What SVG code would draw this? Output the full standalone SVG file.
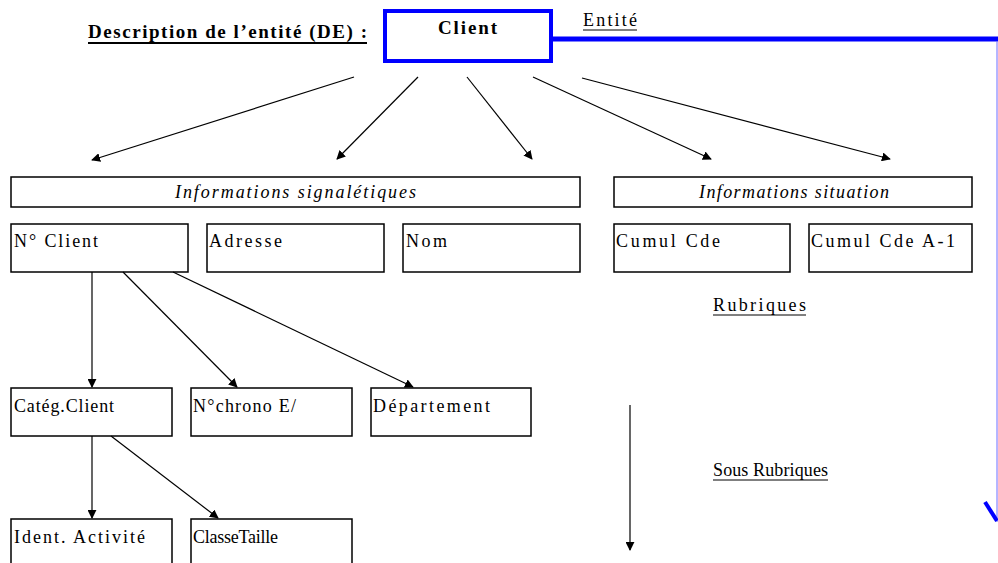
<svg xmlns="http://www.w3.org/2000/svg" width="998" height="563" viewBox="0 0 998 563">
  <style>
    .box { fill: #ffffff; stroke: #000000; stroke-width: 1.5; }
    text { font-family: "Liberation Serif", "DejaVu Serif", serif; font-size: 18px; fill: #000000; }
    .ital { font-style: italic; }
    .bold { font-weight: bold; font-size: 19px; }
    .conn { stroke: #000000; stroke-width: 1.2; fill: none; marker-end: url(#arrow); }
  </style>
  <defs>
    <marker id="arrow" viewBox="0 0 10 10" refX="9" refY="5" markerWidth="9" markerHeight="9" markerUnits="userSpaceOnUse" orient="auto">
      <path d="M0,0 L10,5 L0,10 z" fill="#000000"/>
    </marker>
  </defs>
  <rect width="998" height="563" fill="#ffffff"/>

  <!-- title -->
  <g id="title">
    <text class="bold" x="88" y="38" textLength="279" lengthAdjust="spacing">Description de l’entité (DE) :</text>
    <line x1="88" y1="43" x2="367" y2="43" stroke="#000" stroke-width="2"/>
  </g>

  <!-- entity box -->
  <g id="client">
    <rect x="385" y="11" width="166" height="50" fill="#ffffff" stroke="#0000ff" stroke-width="4"/>
    <text class="bold" x="438" y="34" textLength="59" lengthAdjust="spacing">Client</text>
  </g>
  <g id="entite-label">
    <text x="583" y="26" font-size="16" textLength="54" lengthAdjust="spacing">Entité</text>
    <line x1="583" y1="30" x2="637" y2="30" stroke="#000" stroke-width="1"/>
  </g>

  <!-- blue pointer to the entity -->
  <g id="entity-pointer">
    <line x1="551" y1="39" x2="998" y2="39" stroke="#0000ff" stroke-width="5"/>
    <line x1="997" y1="41" x2="997" y2="522" stroke="#6c6cff" stroke-width="1"/>
    <line x1="985" y1="502" x2="997" y2="521" stroke="#0000ff" stroke-width="4"/>
  </g>

  <!-- group headers -->
  <g id="info-signaletiques">
    <rect class="box" x="11" y="177" width="569" height="30"/>
    <text class="ital" x="175" y="198" textLength="241" lengthAdjust="spacing">Informations signalétiques</text>
  </g>
  <g id="info-situation">
    <rect class="box" x="614" y="177" width="358" height="30"/>
    <text class="ital" x="699" y="198" textLength="190" lengthAdjust="spacing">Informations situation</text>
  </g>

  <!-- rubriques -->
  <g id="no-client">
    <rect class="box" x="11" y="224" width="177" height="48"/>
    <text x="14" y="247" textLength="84" lengthAdjust="spacing">N° Client</text>
  </g>
  <g id="adresse">
    <rect class="box" x="207" y="224" width="177" height="48"/>
    <text x="209" y="247" textLength="73" lengthAdjust="spacing">Adresse</text>
  </g>
  <g id="nom">
    <rect class="box" x="403" y="224" width="177" height="48"/>
    <text x="406" y="247" textLength="41" lengthAdjust="spacing">Nom</text>
  </g>
  <g id="cumul-cde">
    <rect class="box" x="614" y="224" width="176" height="48"/>
    <text x="616" y="247" textLength="104" lengthAdjust="spacing">Cumul Cde</text>
  </g>
  <g id="cumul-cde-a1">
    <rect class="box" x="809" y="224" width="163" height="48"/>
    <text x="811" y="247" textLength="144" lengthAdjust="spacing">Cumul Cde A-1</text>
  </g>

  <g id="rubriques-label">
    <text x="713" y="311" textLength="93" lengthAdjust="spacing">Rubriques</text>
    <line x1="713" y1="315" x2="806" y2="315" stroke="#000" stroke-width="1"/>
  </g>

  <!-- sous-rubriques -->
  <g id="categ-client">
    <rect class="box" x="11" y="388" width="161" height="48"/>
    <text x="14" y="412" textLength="100" lengthAdjust="spacing">Catég.Client</text>
  </g>
  <g id="no-chrono">
    <rect class="box" x="191" y="388" width="161" height="48"/>
    <text x="193" y="412" textLength="103" lengthAdjust="spacing">N°chrono E/</text>
  </g>
  <g id="departement">
    <rect class="box" x="371" y="388" width="160" height="48"/>
    <text x="373" y="412" textLength="117" lengthAdjust="spacing">Département</text>
  </g>
  <g id="ident-activite">
    <rect class="box" x="11" y="519" width="161" height="50"/>
    <text x="14" y="543" textLength="131" lengthAdjust="spacing">Ident. Activité</text>
  </g>
  <g id="classe-taille">
    <rect class="box" x="191" y="519" width="161" height="50"/>
    <text x="193" y="543" textLength="85" lengthAdjust="spacing">ClasseTaille</text>
  </g>

  <g id="sous-rubriques-label">
    <text x="713" y="476" textLength="115" lengthAdjust="spacing">Sous Rubriques</text>
    <line x1="713" y1="480" x2="828" y2="480" stroke="#000" stroke-width="1"/>
  </g>

  <!-- connectors -->
  <g id="connectors">
    <line class="conn" x1="354" y1="77" x2="92" y2="160"/>
    <line class="conn" x1="418" y1="77" x2="337" y2="159"/>
    <line class="conn" x1="467" y1="77" x2="532" y2="159"/>
    <line class="conn" x1="533" y1="77" x2="711" y2="159"/>
    <line class="conn" x1="582" y1="78" x2="890" y2="159"/>
    <line class="conn" x1="92" y1="272" x2="92" y2="387"/>
    <line class="conn" x1="123" y1="272" x2="237" y2="387"/>
    <line class="conn" x1="173" y1="272" x2="413" y2="387"/>
    <line class="conn" x1="92" y1="436" x2="92" y2="518"/>
    <line class="conn" x1="111" y1="436" x2="218" y2="518"/>
    <line class="conn" x1="630" y1="405" x2="630" y2="550"/>
  </g>
</svg>
